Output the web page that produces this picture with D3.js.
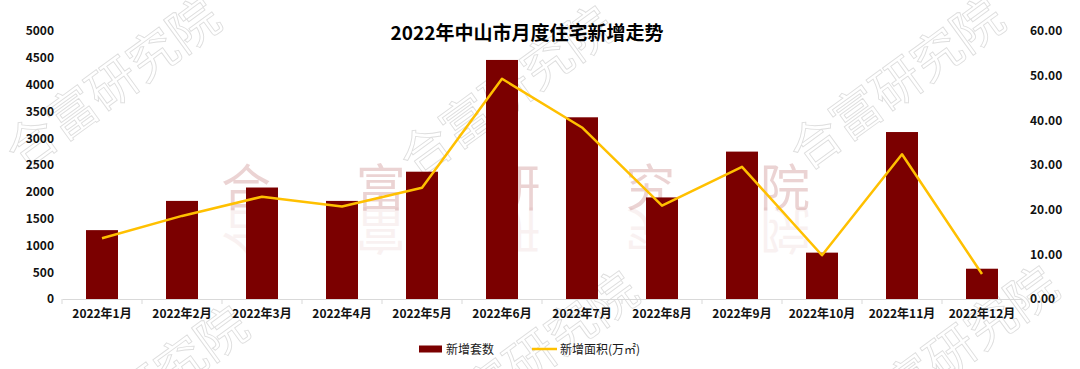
<!DOCTYPE html>
<html>
<head>
<meta charset="utf-8">
<script src="https://cdn.jsdelivr.net/npm/d3@7"></script>
<style>
  body { margin: 0; background: #fff; }
  svg { display: block; font-family: "Noto Sans CJK SC", "Noto Sans", sans-serif; }
</style>
</head>
<body>
<script>
// data
const months = ["2022年1月", "2022年2月", "2022年3月", "2022年4月", "2022年5月", "2022年6月",
                "2022年7月", "2022年8月", "2022年9月", "2022年10月", "2022年11月", "2022年12月"];
const newUnits = [1285, 1830, 2080, 1830, 2375, 4460, 3390, 1895, 2750, 865, 3115, 565];   // 新增套数
const newArea = [13.6, 18.6, 22.9, 20.7, 24.9, 49.3, 38.4, 20.9, 29.6, 9.8, 32.4, 5.6];     // 新增面积(万㎡)
const leftTicks = [0, 500, 1000, 1500, 2000, 2500, 3000, 3500, 4000, 4500, 5000];
const rightTicks = [0, 10, 20, 30, 40, 50, 60];
const title = "2022年中山市月度住宅新增走势";
const legendNames = ["新增套数", "新增面积(万㎡)"];
const watermark = "合富研究院";

const W = 1080, H = 369;
const margins = { left: 62, right: 58, top: 31, bottom: 70 };
const barColor = "#7b0000";
const lineColor = "#ffc000";

const svg = d3.select("body").append("svg")
    .attr("width", W)
    .attr("height", H);

// gray outlined watermarks (rotated)
const wmSpots = [[22, 172], [416, 180], [806, 172], [50, 480], [440, 445], [860, 440]];
svg.append("g").selectAll("text")
    .data(wmSpots)
    .enter().append("text")
    .attr("transform", d => "translate(" + d[0] + "," + d[1] + ") rotate(-36)")
    .attr("font-size", 50)
    .attr("fill", "none")
    .attr("stroke", "#dedede")
    .attr("stroke-width", 0.9)
    .text(watermark);

// scales
const x = d3.scaleBand()
    .domain(months)
    .range([margins.left, W - margins.right])
    .paddingInner(0.6)
    .paddingOuter(0.3);

const yL = d3.scaleLinear().domain([0, 5000]).range([H - margins.bottom, margins.top]);
const yR = d3.scaleLinear().domain([0, 60]).range([H - margins.bottom, margins.top]);

// pink watermark in the middle with its reflection
const pinkChars = watermark.split("");
const pinkX = d3.scalePoint().domain(pinkChars).range([246, 785]);
const pink = svg.append("g");
pink.selectAll("text.wm")
    .data(pinkChars)
    .enter().append("text")
    .attr("class", "wm")
    .attr("x", d => pinkX(d))
    .attr("y", 206)
    .attr("text-anchor", "middle")
    .attr("font-size", 50)
    .attr("fill", "#c07070")
    .attr("opacity", 0.3)
    .text(d => d);
pink.selectAll("text.refl")
    .data(pinkChars)
    .enter().append("text")
    .attr("class", "refl")
    .attr("transform", d => "translate(" + pinkX(d) + ",212) scale(1,-1)")
    .attr("text-anchor", "middle")
    .attr("font-size", 50)
    .attr("fill", "#c07070")
    .attr("opacity", 0.09)
    .text(d => d);

// bars
svg.append("g").selectAll("rect")
    .data(newUnits)
    .enter().append("rect")
    .attr("x", (d, i) => x(months[i]))
    .attr("y", d => yL(d))
    .attr("width", x.bandwidth())
    .attr("height", d => yL(0) - yL(d))
    .attr("fill", barColor);

// x axis
const xAxis = svg.append("g")
    .attr("transform", "translate(0," + yL(0) + ")")
    .call(d3.axisBottom(x).tickSize(0).tickPadding(10));
xAxis.select(".domain").attr("stroke", "#d9d9d9").attr("stroke-width", 1);
xAxis.selectAll("text")
    .attr("font-size", 12)
    .attr("font-weight", "bold")
    .attr("fill", "#111")
    .attr("font-family", "Noto Sans CJK SC");

// category boundary ticks
const step = x.step();
const bounds = months.map(m => x(m) - step * 0.3).concat([x(months[months.length - 1]) + x.bandwidth() + step * 0.3]);
xAxis.selectAll("line.bound")
    .data(bounds)
    .enter().append("line")
    .attr("class", "bound")
    .attr("x1", d => d).attr("x2", d => d)
    .attr("y1", 0).attr("y2", 5)
    .attr("stroke", "#d9d9d9");

// left axis
const leftAxis = svg.append("g")
    .attr("transform", "translate(" + margins.left + ",0)")
    .call(d3.axisLeft(yL).tickValues(leftTicks).tickSize(0).tickPadding(8).tickFormat(d3.format("d")));
leftAxis.select(".domain").remove();
leftAxis.selectAll("text")
    .attr("font-size", 12)
    .attr("font-weight", "bold")
    .attr("fill", "#111")
    .attr("font-family", "Noto Sans CJK SC");

// right axis
const rightAxis = svg.append("g")
    .attr("transform", "translate(" + (W - margins.right) + ",0)")
    .call(d3.axisRight(yR).tickValues(rightTicks).tickSize(0).tickPadding(8).tickFormat(d3.format(".2f")));
rightAxis.select(".domain").remove();
rightAxis.selectAll("text")
    .attr("font-size", 12)
    .attr("font-weight", "bold")
    .attr("fill", "#111")
    .attr("font-family", "Noto Sans CJK SC");

// line
const line = d3.line()
    .x((d, i) => x(months[i]) + x.bandwidth() / 2)
    .y(d => yR(d));
svg.append("path")
    .datum(newArea)
    .attr("d", line)
    .attr("fill", "none")
    .attr("stroke", lineColor)
    .attr("stroke-width", 2.5)
    .attr("stroke-linejoin", "round");

// title
svg.append("text")
    .attr("x", 527)
    .attr("y", 40)
    .attr("text-anchor", "middle")
    .attr("font-size", 19)
    .attr("font-weight", "bold")
    .attr("fill", "#000")
    .text(title);

// legend
const legend = svg.append("g");
legend.append("rect")
    .attr("x", 419).attr("y", 345.5)
    .attr("width", 23).attr("height", 7)
    .attr("fill", barColor);
legend.append("text")
    .attr("x", 446).attr("y", 353.5)
    .attr("font-size", 12)
    .attr("fill", "#1a1a1a")
    .text(legendNames[0]);
legend.append("line")
    .attr("x1", 532).attr("x2", 557)
    .attr("y1", 349).attr("y2", 349)
    .attr("stroke", lineColor)
    .attr("stroke-width", 2.5);
legend.append("text")
    .attr("x", 560).attr("y", 353.5)
    .attr("font-size", 12)
    .attr("fill", "#1a1a1a")
    .text(legendNames[1]);
</script>
</body>
</html>
